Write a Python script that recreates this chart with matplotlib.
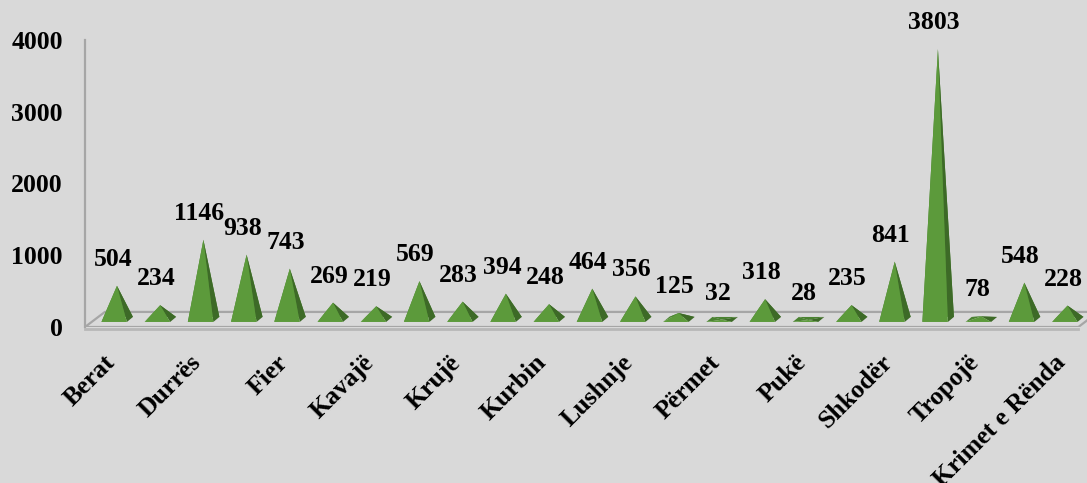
import matplotlib.pyplot as plt
from matplotlib.patches import Polygon
from matplotlib.transforms import ScaledTranslation

offices = ['Berat', 'Dibër', 'Durrës', 'Elbasan', 'Fier', 'Gjirokastër', 'Kavajë',
           'Korçë', 'Krujë', 'Kukës', 'Kurbin', 'Lezhë', 'Lushnje', 'Mat', 'Përmet',
           'Pogradec', 'Pukë', 'Sarandë', 'Shkodër', 'Tiranë', 'Tropojë', 'Vlorë',
           'Krimet e Rënda']
cases = [504, 234, 1146, 938, 743, 269, 219, 569, 283, 394, 248, 464, 356, 125,
         32, 318, 28, 235, 841, 3803, 78, 548, 228]
yticks = [0, 1000, 2000, 3000, 4000]

bg = '#d9d9d9'
edge = '#a6a6a6'
fsize = 18.5
plt.rcParams['font.family'] = ['Liberation Serif', 'DejaVu Serif']
plt.rcParams['font.weight'] = 'bold'

W, H = 1087, 483
fig = plt.figure(figsize=(W / 100, H / 100), dpi=100, facecolor=bg)
ax = fig.add_axes([85 / W, (H - 327) / H, 1 - 85 / W, (327 - 40) / H])
ax.set_facecolor('none')
ax.set_xlim(-0.74, 22.45)
ax.set_ylim(0, 4000)

# floor of the 3d chart
floor = Polygon([(-0.74, 0), (22.25, 0), (22.71, 210), (-0.28, 210)],
                closed=True, facecolor='#dadada', edgecolor=edge, lw=1.6,
                zorder=1)
ax.add_patch(floor)
ax.plot([-0.74, 22.25], [-30, -30], color='#b8b8b8', lw=2, zorder=1,
        clip_on=False)

base = 70
for i, v in enumerate(cases):
    top = (i, base + v)
    fl, fr = (i - 0.36, base), (i + 0.23, base)
    bl, br = (i - 0.22, base + 70), (i + 0.37, base + 70)
    ax.add_patch(Polygon([fl, bl, top], facecolor='#4a8231', lw=0, zorder=2))
    ax.add_patch(Polygon([bl, br, top], facecolor='#4a8231', lw=0, zorder=2))
    ax.add_patch(Polygon([fr, br, top], facecolor='#3d6a27', lw=0, zorder=3))
    ax.add_patch(Polygon([fl, fr, top], facecolor='#5c9a3b', lw=0, zorder=4))
    ax.annotate(str(v), xy=top, xytext=(-4, 15), textcoords='offset pixels',
                ha='center', va='bottom', fontsize=fsize, fontweight='bold',
                zorder=5)

for s in ['top', 'right', 'bottom']:
    ax.spines[s].set_visible(False)
ax.spines['left'].set_color(edge)
ax.spines['left'].set_linewidth(1.6)

ax.set_yticks(yticks)
ax.tick_params(axis='y', length=0, pad=16, labelsize=fsize)
for lab in ax.get_yticklabels():
    lab.set_fontweight('bold')

ax.set_xticks(range(0, len(offices), 2))
ax.set_xticklabels(offices[::2], rotation=45, ha='right', va='center',
                   rotation_mode='anchor', fontsize=fsize, fontweight='bold')
ax.tick_params(axis='x', length=0, pad=0)
shift = ScaledTranslation(-6 / 100, -32 / 100, fig.dpi_scale_trans)
for lab in ax.get_xticklabels():
    lab.set_transform(lab.get_transform() + shift)

fig.savefig('out.png', dpi=100, facecolor=bg)
